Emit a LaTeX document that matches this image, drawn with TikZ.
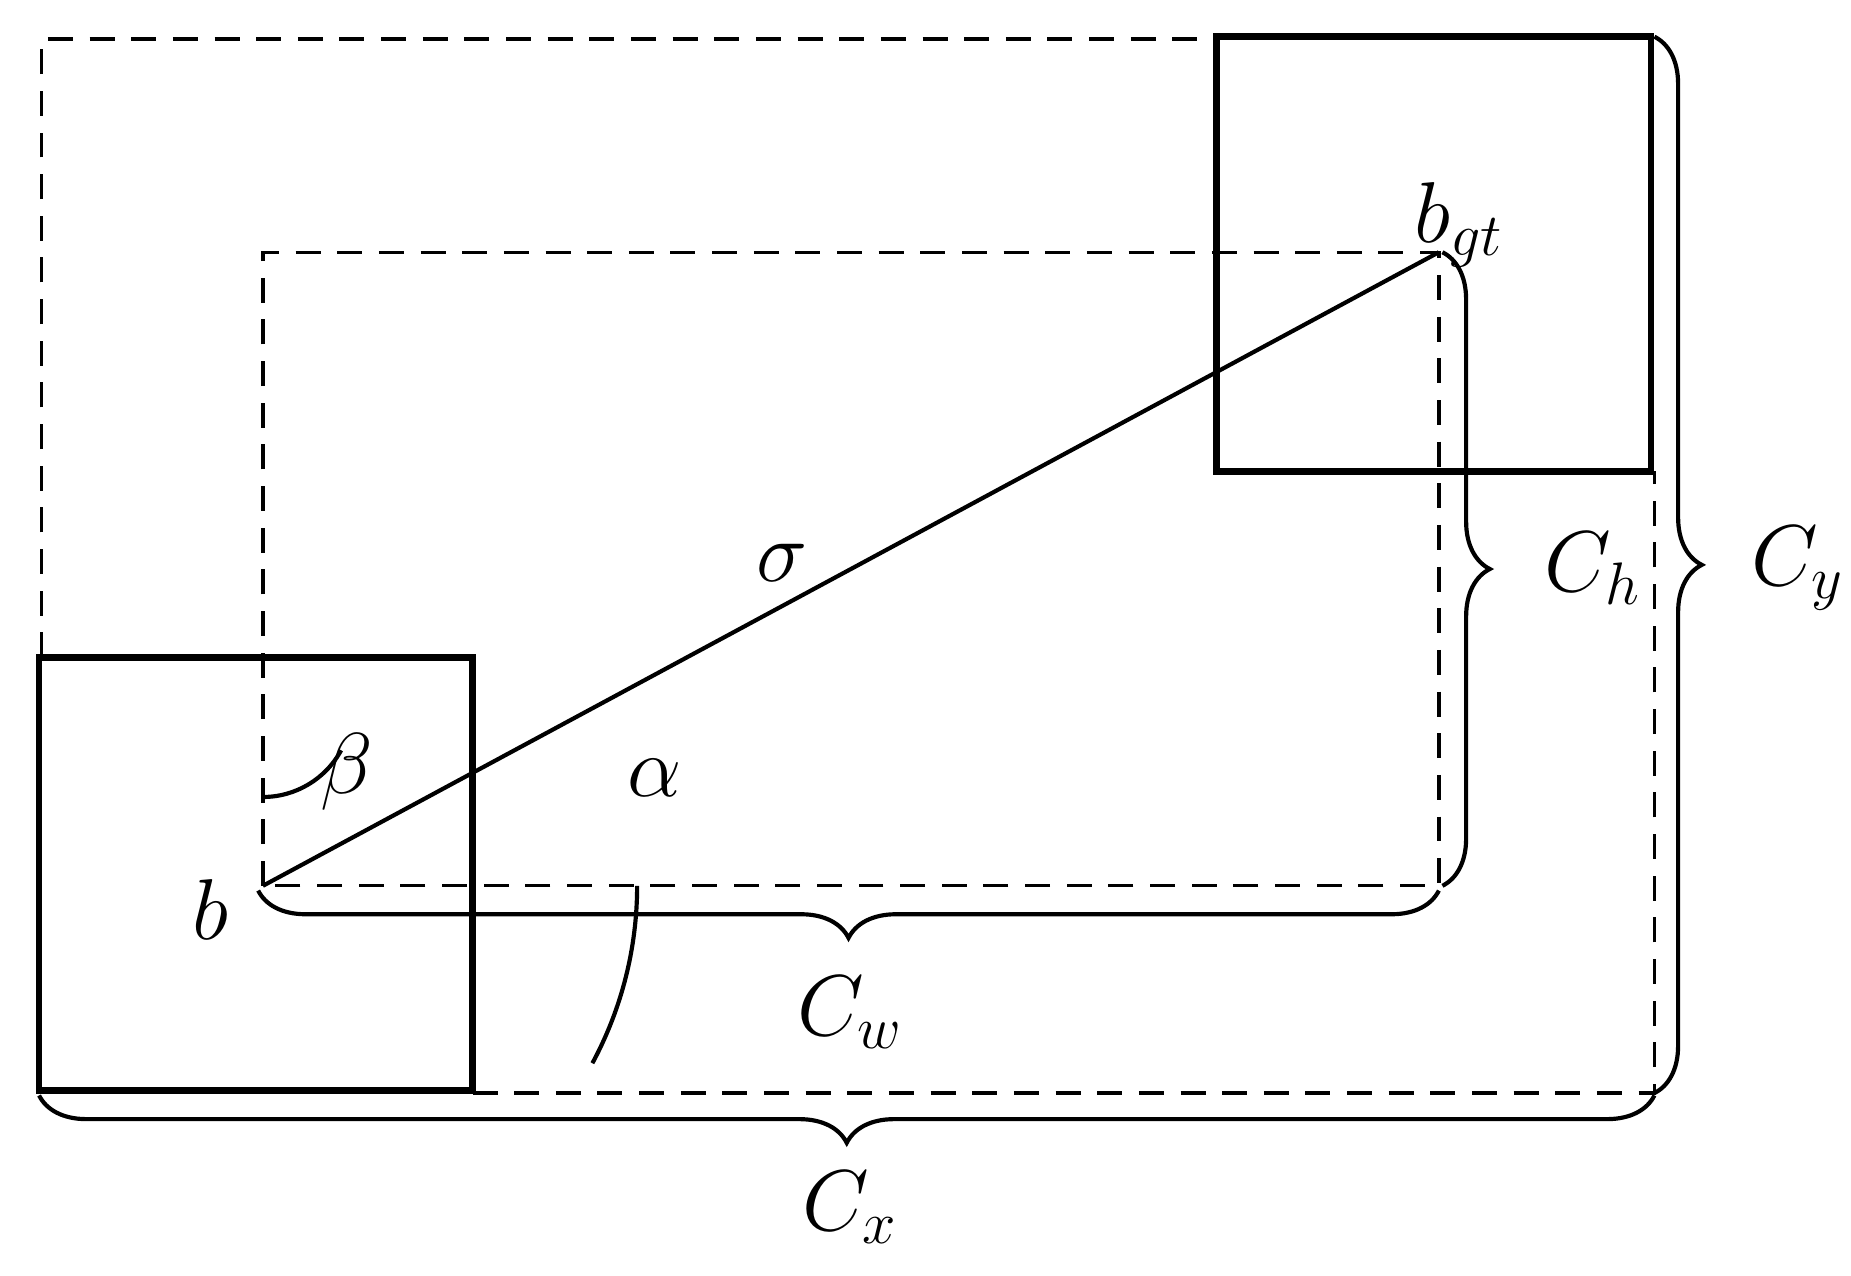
\documentclass[tikz,border=0pt]{standalone}
\usetikzlibrary{decorations.pathreplacing}
\begin{document}
\begin{tikzpicture}[x=0.01cm,y=-0.01cm,
  box/.style={line width=1.6pt},
  dsh/.style={line width=0.8pt,dash pattern=on 6pt off 4pt},
  thn/.style={line width=1pt},
  br/.style={line width=1pt,decorate,decoration={brace,amplitude=0.4cm,raise=0pt}},
  lab/.style={font=\fontsize{22}{26}\selectfont}]
\useasboundingbox (0,0) rectangle (1563,1077);
\coordinate (b) at (222,748);
\coordinate (g) at (1215,213);
\draw[box] (33,555) rectangle (399,921);
\draw[box] (1027,31) rectangle (1394,398);
\draw[dsh] (35,555) -- (35,33) -- (1027,33);
\draw[dsh] (399,923) -- (1397,923) -- (1397,398);
\draw[dsh] (b) -- (222,213) -- (g) -- (1215,748) -- cycle;
\draw[thn] (b) -- (g);
\draw[thn] (538,748) arc[start angle=0,end angle=28.3,radius=316];
\draw[thn] (222,673) arc[start angle=90,end angle=28.3,radius=75];
\draw[br] (1215,752) -- (218,752);
\draw[br] (1397,925) -- (33,925);
\draw[br] (1218,213) -- (1218,748);
\draw[br] (1397,31) -- (1397,923);
\node[lab] (cw) at (718,855) {$C_w$};
\node[lab] (cx) at (718,1020) {$C_x$};
\node[lab] (ch) at (1345,480) {$C_h$};
\node[lab] (cy) at (1518,480) {$C_y$};
\node[lab] (s) at (660,475) {$\sigma$};
\node[lab] (a) at (553,657) {$\alpha$};
\node[lab] (be) at (293,652) {$\beta$};
\node[lab] (bl) at (178,768) {$b$};
\node[lab] (bg) at (1232,190) {$b_{gt}$};
\end{tikzpicture}
\end{document}
